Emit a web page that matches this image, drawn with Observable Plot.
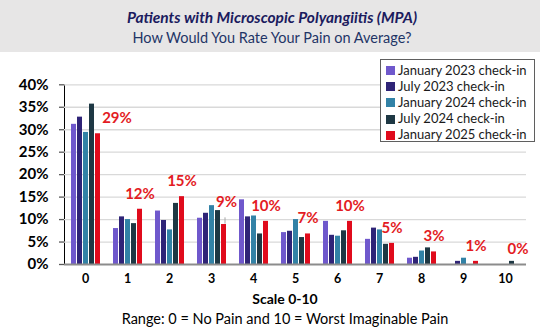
<!DOCTYPE html>
<html>
<head>
<meta charset="utf-8">
<script src="https://cdn.jsdelivr.net/npm/d3@7"></script>
<script src="https://cdn.jsdelivr.net/npm/@observablehq/plot@0.6"></script>
<style>
  body { margin: 0; background: #fff; font-family: Lato, "Open Sans", sans-serif; }
  #wrap { position: relative; width: 540px; height: 331px; overflow: hidden; background: #fff; }
  #titlebox { position: absolute; left: 0; top: 0; width: 540px; height: 52px; background: #e7e6e6; }
  .tline { position: absolute; left: 0; width: 544px; text-align: center; line-height: 20px; white-space: nowrap; }
  #t1 { top: 7px; font-size: 15.5px; font-weight: bold; font-style: italic; color: #1b1b5e; }
  #t2 { top: 28px; font-size: 14.5px; color: #1f3566; }
  #chart { position: absolute; left: 0; top: 52px; }
  #legend { position: absolute; left: 380px; top: 59px; width: 155px; height: 83px; border: 1px solid #5f5f5f; background: #fff; box-sizing: border-box; }
  .li { position: absolute; left: 5px; height: 16px; line-height: 16px; font-size: 13px; color: #1a1a1a; white-space: nowrap; }
  .sw { display: inline-block; width: 9px; height: 9px; margin-right: 3px; vertical-align: -0.5px; }
  .cap { position: absolute; left: 0; width: 570px; text-align: center; white-space: nowrap; color: #000; }
  #c1 { top: 289px; line-height: 20px; font-size: 14px; font-weight: bold; }
  #c2 { top: 309px; line-height: 20px; font-size: 14.5px; }
</style>
</head>
<body>
<div id="wrap">
  <div id="titlebox">
    <div class="tline" id="t1">Patients with Microscopic Polyangiitis (MPA)</div>
    <div class="tline" id="t2">How Would You Rate Your Pain on Average?</div>
  </div>
  <div id="chart"></div>
  <div id="legend"></div>
  <div class="cap" id="c1">Scale 0-10</div>
  <div class="cap" id="c2">Range: 0 = No Pain and 10 = Worst Imaginable Pain</div>
</div>
<script>
const categories = ["0", "1", "2", "3", "4", "5", "6", "7", "8", "9", "10"];
const series = ["January 2023 check-in", "July 2023 check-in", "January 2024 check-in", "July 2024 check-in", "January 2025 check-in"];
const colors = ["#6f58cc", "#2f2477", "#3282a6", "#1e3844", "#e00b1c"];
const jan2023 = [31.2, 8.0, 11.9, 10.3, 14.4, 7.1, 9.6, 5.6, 1.4, 0, 0];
const jul2023 = [32.8, 10.6, 9.8, 11.4, 10.6, 7.4, 6.5, 8.1, 1.6, 0.7, 0];
const jan2024 = [29.4, 10.0, 7.7, 13.1, 10.8, 10.0, 6.3, 7.7, 3.0, 1.4, 0];
const jul2024 = [35.7, 9.1, 13.6, 12.0, 6.8, 6.0, 7.5, 4.5, 3.7, 0, 0.7];
const jan2025 = [29.1, 12.3, 15.1, 8.9, 9.6, 6.8, 9.6, 4.7, 2.8, 0.7, 0];
const valueLabels = ["29%", "12%", "15%", "9%", "10%", "7%", "10%", "5%", "3%", "1%", "0%"];
const yTicks = [0, 5, 10, 15, 20, 25, 30, 35, 40];

const seriesValues = [jan2023, jul2023, jan2024, jul2024, jan2025];
const lastSeries = series[series.length - 1];
const rows = [];
categories.forEach((c, i) => {
  seriesValues.forEach((vals, s) => {
    rows.push({cat: c, series: series[s], value: vals[i], label: s === seriesValues.length - 1 ? valueLabels[i] : ""});
  });
});

const red = "#e31b23";
const labelStyle = {x: "series", y: "value", text: "label", fill: red, fontWeight: "bold", fontSize: 15};

const chart = Plot.plot({
  width: 540,
  height: 240,
  marginTop: 32.3,
  marginBottom: 28,
  marginLeft: 60,
  marginRight: 11,
  style: {fontFamily: "Lato, sans-serif", fontSize: "14px", fontWeight: "bold", color: "#000", background: "transparent", overflow: "visible"},
  facet: {data: rows, x: "cat"},
  fx: {domain: categories, padding: 0, axis: "bottom", label: null, tickSize: 0, tickPadding: 10},
  x: {domain: series, axis: null, paddingInner: 0.25, paddingOuter: 0.88},
  y: {domain: [0, 40], ticks: yTicks, tickFormat: d => d + "%", tickSize: 5, tickPadding: 11, label: null, line: true},
  color: {domain: series, range: colors},
  marks: [
    Plot.ruleY(yTicks.filter(d => d > 0), {stroke: "#d9d9d9", strokeWidth: 1.3}),
    Plot.barY(rows, {x: "series", y: "value", fill: "series"}),
    Plot.ruleY([0], {stroke: "#8c8c8c", strokeWidth: 2}),
    Plot.text(rows, {...labelStyle, filter: d => d.series === lastSeries && d.cat !== "0" && d.cat !== "3", dy: -15.5}),
    Plot.text(rows, {...labelStyle, filter: d => d.series === lastSeries && d.cat === "0", dy: -15.5, dx: 19}),
    Plot.text(rows, {...labelStyle, filter: d => d.series === lastSeries && d.cat === "3", dy: -22, dx: 2.5}),
    Plot.link(rows, {filter: d => d.series === lastSeries && d.cat === "3", x1: "series", x2: "series", y1: d => d.value + 0.2, y2: d => d.value + 1.6, stroke: "#a6a6a6", strokeWidth: 1, dx: 1})
  ]
});

const sel = d3.select(chart);
sel.selectAll('[aria-label^="fx-axis"] text').attr("font-size", 12.5);
sel.selectAll('[aria-label^="y-axis"] text').attr("font-size", 15);
sel.selectAll('[aria-label^="y-axis"] line, [aria-label^="y-axis"] path').attr("stroke", "#595959").attr("stroke-width", 1.3);
document.getElementById("chart").appendChild(chart);

const legend = document.getElementById("legend");
series.forEach((s, i) => {
  const d = document.createElement("div");
  d.className = "li";
  d.style.top = (1.5 + i * 16.2) + "px";
  d.innerHTML = `<span class="sw" style="background:${colors[i]}"></span>${s}`;
  legend.appendChild(d);
});
</script>
</body>
</html>
